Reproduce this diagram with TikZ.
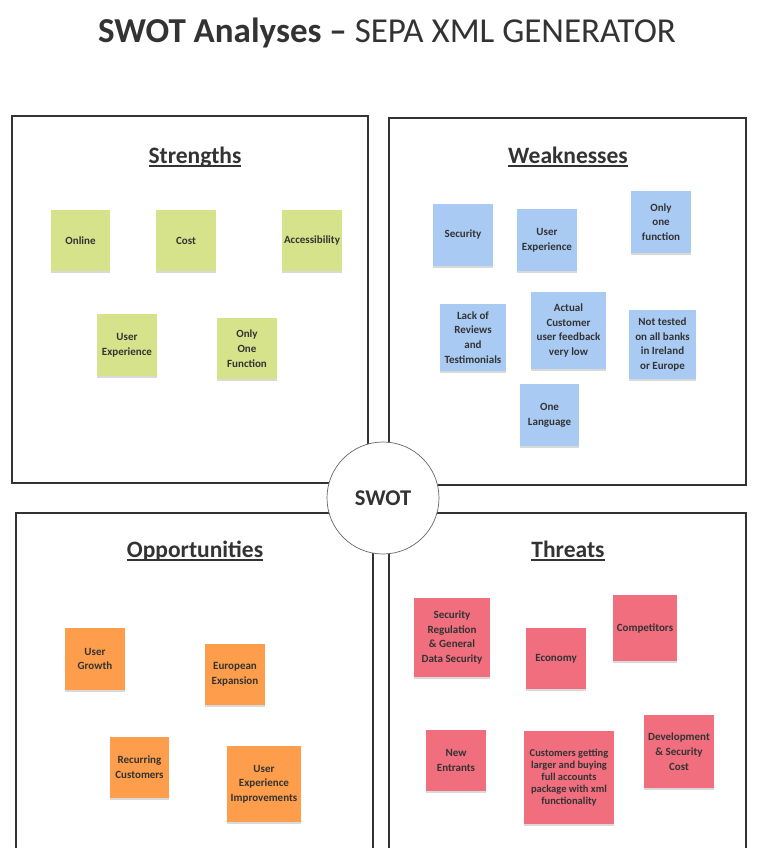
\documentclass[tikz,border=0pt]{standalone}
\usepackage{fontspec}
\setmainfont{Carlito}
\usetikzlibrary{shadows}
\definecolor{notegreen}{HTML}{D6E38A}
\definecolor{noteblue}{HTML}{A9CBF3}
\definecolor{noteorange}{HTML}{FE9D4B}
\definecolor{notepink}{HTML}{F06E7E}
\definecolor{txt}{HTML}{333333}
\definecolor{framecol}{HTML}{333333}
\newcommand\myul[1]{\setbox0=\hbox{#1}\rlap{\rule[-3.6pt]{\wd0}{1.9pt}}\box0}
\newcommand\snote[7]{\node[#2, minimum width={#5-#3}, minimum height={#6-#4}] (#1) at ({(#3+#5)/2},{(#4+#6)/2}) {#7};}
\begin{document}
\begin{tikzpicture}[x=1pt,y=-1pt,
  note/.style={inner sep=0pt, align=center, text=txt,
    font=\bfseries\fontsize{11}{14.7}\selectfont,
    drop shadow={shadow xshift=0pt, shadow yshift=-1.5pt, fill=black, opacity=0.15}},
  gnote/.style={note, fill=notegreen},
  bnote/.style={note, fill=noteblue},
  onote/.style={note, fill=noteorange},
  pnote/.style={note, fill=notepink},
  quad/.style={draw=framecol, line width=1.2pt},
  heading/.style={anchor=base, text=txt, inner sep=0pt, font=\bfseries\fontsize{23.5}{27}\selectfont}]
\useasboundingbox (0,0) rectangle (763,848);
\clip (0,0) rectangle (763,848);
\fill[white] (0,0) rectangle (763,848);
% title
\node[anchor=base, text=txt, inner sep=0pt, font=\fontsize{35}{40}\selectfont] (title) at (387,43) {\textbf{SWOT Analyses –} SEPA XML GENERATOR};
% quadrants
\draw[quad] (12,116) rectangle (368,483);
\draw[quad] (389,118) rectangle (746,485);
\draw[quad] (16,513) rectangle (373,860);
\draw[quad] (389,513) rectangle (746,860);
% headings
\node[heading] (hs) at (195,163) {\myul{Strengths}};
\node[heading] (hw) at (568,163) {\myul{Weaknesses}};
\node[heading] (ho) at (195,557) {\myul{Opportunities}};
\node[heading] (ht) at (568,557) {\myul{Threats}};
% strengths
\snote{s1}{gnote}{51}{210}{110}{271}{Online}
\snote{s2}{gnote}{156}{210}{216}{271}{Cost}
\snote{s3}{gnote}{282}{210}{342}{271}{Accessibility}
\snote{s4}{gnote}{97}{314}{157}{376}{User\\Experience}
\snote{s5}{gnote}{217}{318}{277}{379}{Only\\One\\Function}
% weaknesses
\snote{w1}{bnote}{433}{204}{493}{266}{Security}
\snote{w2}{bnote}{517}{209}{577}{271}{User\\Experience}
\snote{w3}{bnote}{631}{191}{691}{253}{Only\\one\\function}
\snote{w4}{bnote}{440}{304}{506}{371}{Lack of\\Reviews\\and\\Testimonials}
\snote{w5}{bnote}{531}{292}{606}{369}{Actual\\Customer\\user feedback\\very low}
\snote{w6}{bnote}{629}{310}{696}{379}{Not tested\\on all banks\\in Ireland\\or Europe}
\snote{w7}{bnote}{520}{384}{579}{446}{One\\Language}
% opportunities
\snote{o1}{onote}{65}{628}{125}{690}{User\\Growth}
\snote{o2}{onote}{205}{644}{265}{705}{European\\Expansion}
\snote{o3}{onote}{110}{737}{169}{798}{Recurring\\Customers}
\snote{o4}{onote}{227}{746}{301}{822}{User\\Experience\\Improvements}
% threats
\snote{t1}{pnote}{414}{598}{490}{677}{Security\\Regulation\\\& General\\Data Security}
\snote{t2}{pnote}{526}{628}{586}{689}{Economy}
\snote{t3}{pnote}{613}{595}{677}{661}{Competitors}
\snote{t4}{pnote}{426}{730}{486}{791}{New\\Entrants}
\snote{t5}{pnote, font=\bfseries\fontsize{10.5}{12}\selectfont}{524}{731}{614}{824}{Customers getting\\larger and buying\\full accounts\\package with xml\\functionality}
\snote{t6}{pnote}{644}{715}{714}{788}{Development\\\& Security\\Cost}
% centre circle
\node[circle, draw=black!60, fill=white, line width=0.7pt, minimum size=112, inner sep=0pt, text=txt, font=\bfseries\fontsize{22.5}{26}\selectfont] (swot) at (383,498) {SWOT};
\end{tikzpicture}
\end{document}
